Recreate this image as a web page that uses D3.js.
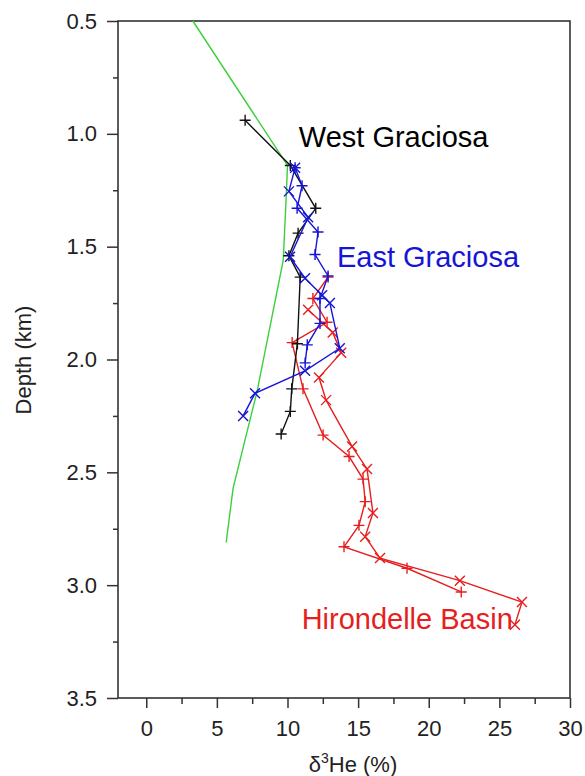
<html>
<script src="https://d3js.org/d3.v7.min.js"></script>
<body style="margin:0;background:#fff">
<div id="chart"></div>
<script>
// West Graciosa, one cast ("+" markers): [d3He %, depth km]
const westPlus = [[7.0,0.94],[10.2,1.14],[12.0,1.33],[10.75,1.44],[10.1,1.54],[10.9,1.635],
  [10.7,1.93],[10.3,2.13],[10.2,2.23],[9.55,2.33]];
// East Graciosa, two casts
const eastCross = [[10.54,1.15],[10.1,1.255],[11.46,1.37],[10.18,1.545],[11.24,1.64],[12.45,1.715],
  [13.0,1.75],[13.7,1.95],[11.24,2.05],[7.7,2.15],[6.86,2.25]];
const eastPlus = [[10.54,1.15],[11.03,1.23],[10.68,1.33],[12.16,1.435],[11.95,1.535],[12.87,1.63],
  [12.3,1.73],[12.3,1.84],[11.4,1.935],[11.25,2.015]];
// Hirondelle Basin, two casts
const hironPlus = [[12.87,1.635],[11.8,1.73],[12.8,1.835],[10.33,1.925],[11.1,2.13],[12.52,2.335],
  [14.36,2.43],[15.35,2.53],[15.5,2.63],[15.06,2.735],[14.0,2.83],[18.46,2.925],[22.3,3.03]];
const hironCross = [[11.46,1.78],[13.2,1.88],[13.8,1.97],[12.23,2.08],[12.73,2.18],[14.57,2.385],
  [15.63,2.485],[16.05,2.68],[15.5,2.785],[16.55,2.88],[22.2,2.98],[26.6,3.075],[26.1,3.175]];
// green reference profile (no markers)
const greenLine = [[3.3,0.5],[10.0,1.14],[9.9,1.29],[9.7,1.56],[7.85,2.14],[6.15,2.57],[5.66,2.81]];

const yMajor = [0.5,1.0,1.5,2.0,2.5,3.0,3.5];
const yMinor = [0.75,1.25,1.75,2.25,2.75,3.25];
const xMajor = [0,5,10,15,20,25,30];
const xMinor = [-2.5,2.5,7.5,12.5,17.5,22.5,27.5].filter(v => v > -2);

const labels = [
  {text: "West Graciosa", v: 10.8, d: 1.06, color: "#000"},
  {text: "East Graciosa", v: 13.5, d: 1.59, color: "#1515d6"},
  {text: "Hirondelle Basin", v: 11.0, d: 3.195, color: "#e61e1e"}
];

const W = 585, H = 776;
const svg = d3.select("#chart").append("svg").attr("width", W).attr("height", H)
  .style("font-family", "'Liberation Sans', Arial, Helvetica, sans-serif");

const x = d3.scaleLinear().domain([-2, 30]).range([118, 570]);
const y = d3.scaleLinear().domain([0.5, 3.5]).range([21, 698]);

// axes
const yAx = svg.append("g").attr("transform", "translate(118,0)")
  .call(d3.axisLeft(y).tickValues(yMajor).tickFormat(d3.format(".1f")).tickSize(11).tickPadding(10));
const yAxMinor = svg.append("g").attr("transform", "translate(118,0)")
  .call(d3.axisLeft(y).tickValues(yMinor).tickFormat("").tickSize(5));
const xAx = svg.append("g").attr("transform", "translate(0,698)")
  .call(d3.axisBottom(x).tickValues(xMajor).tickSize(10).tickPadding(12));
const xAxMinor = svg.append("g").attr("transform", "translate(0,698)")
  .call(d3.axisBottom(x).tickValues(xMinor).tickFormat("").tickSize(6));

[yAx, yAxMinor, xAx, xAxMinor].forEach(g => {
  g.select(".domain").remove();
  g.selectAll("line").attr("stroke", "#333").attr("stroke-width", 1.5);
  g.selectAll("text").attr("font-size", 22).attr("fill", "#222")
    .attr("font-family", "'Liberation Sans', Arial, sans-serif");
});

// frame
svg.append("rect").attr("x", 118).attr("y", 21).attr("width", 452).attr("height", 677)
  .attr("fill", "none").attr("stroke", "#333").attr("stroke-width", 1.6);

const line = d3.line().x(d => x(d[0])).y(d => y(d[1]));

function drawSeries(data, color, marker) {
  svg.append("path").datum(data).attr("d", line)
    .attr("fill", "none").attr("stroke", color).attr("stroke-width", 1.4);
  if (!marker) return;
  const s = marker === "plus" ? 5.5 : 5;
  const sym = marker === "plus"
    ? `M${-s},0H${s}M0,${-s}V${s}`
    : `M${-s},${-s}L${s},${s}M${-s},${s}L${s},${-s}`;
  svg.append("g").selectAll("path").data(data).join("path")
    .attr("transform", d => `translate(${x(d[0])},${y(d[1])})`)
    .attr("d", sym).attr("fill", "none").attr("stroke", color).attr("stroke-width", 1.4);
}

drawSeries(greenLine, "#3ccf3c", null);
drawSeries(hironPlus, "#e61e1e", "plus");
drawSeries(hironCross, "#e61e1e", "cross");
drawSeries(westPlus, "#111", "plus");
drawSeries(eastPlus, "#1515d6", "plus");
drawSeries(eastCross, "#1515d6", "cross");

svg.selectAll(".lbl").data(labels).join("text").attr("class", "lbl")
  .attr("x", d => x(d.v)).attr("y", d => y(d.d))
  .attr("font-size", 29).attr("fill", d => d.color).text(d => d.text);

// axis titles
svg.append("text").attr("transform", "translate(31,360) rotate(-90)")
  .attr("text-anchor", "middle").attr("font-size", 22).attr("fill", "#222").text("Depth (km)");
const xt = svg.append("text").attr("x", 353).attr("y", 772)
  .attr("text-anchor", "middle").attr("font-size", 22).attr("fill", "#222");
xt.append("tspan").text("δ");
xt.append("tspan").attr("font-size", 14).attr("dy", -9).text("3");
xt.append("tspan").attr("dy", 9).text("He (%)");
</script>
</body>
</html>
